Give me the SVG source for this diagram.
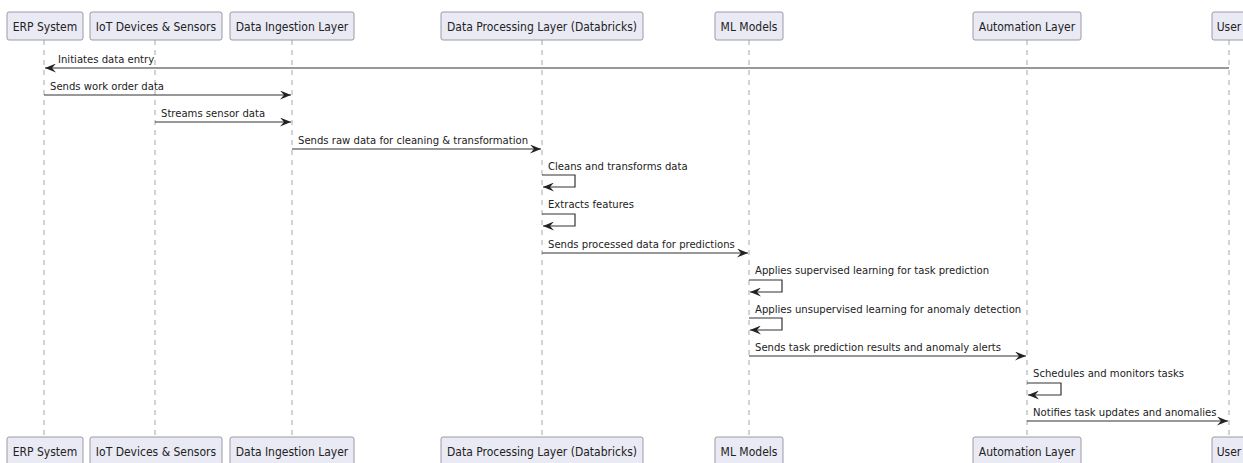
<svg xmlns="http://www.w3.org/2000/svg" width="1243" height="463" viewBox="0 0 1243 463">
<style>
  .box { fill: #EAEAF5; stroke: #9A9AA6; stroke-width: 1; }
  .btxt { font-family: "DejaVu Sans Condensed", "DejaVu Sans", sans-serif; font-stretch: condensed; font-size: 12px; fill: #222; text-anchor: middle; }
  .life { stroke: #A8A8A8; stroke-width: 1; stroke-dasharray: 5,5; fill: none; }
  .msg { stroke: #333; stroke-width: 1.2; fill: none; }
  .mtxt { font-family: "DejaVu Sans Condensed", "DejaVu Sans", sans-serif; font-stretch: condensed; font-size: 11.2px; fill: #222; }
</style>
<defs>
  <marker id="ah" viewBox="0 0 11 9" refX="11" refY="4.5" markerWidth="11" markerHeight="9" markerUnits="userSpaceOnUse" orient="auto">
    <path d="M0,0 L11,4.5 L0,9 L4,4.5 Z" fill="#222"/>
  </marker>
</defs>
<rect width="1243" height="463" fill="#FFFFFF"/>
<g id="lifelines">
  <line class="life" x1="44" y1="40" x2="44" y2="437"/>
  <line class="life" x1="155" y1="40" x2="155" y2="437"/>
  <line class="life" x1="292" y1="40" x2="292" y2="437"/>
  <line class="life" x1="542" y1="40" x2="542" y2="437"/>
  <line class="life" x1="749" y1="40" x2="749" y2="437"/>
  <line class="life" x1="1027" y1="40" x2="1027" y2="437"/>
  <line class="life" x1="1229" y1="40" x2="1229" y2="437"/>
</g>
<g id="erp">
  <rect class="box" x="7" y="12" width="76" height="28" rx="2"/>
  <text class="btxt" x="45" y="30.5">ERP System</text>
  <rect class="box" x="7" y="437" width="76" height="28" rx="2"/>
  <text class="btxt" x="45" y="455.5">ERP System</text>
</g>
<g id="iot">
  <rect class="box" x="90" y="12" width="132" height="28" rx="2"/>
  <text class="btxt" x="156" y="30.5">IoT Devices &amp; Sensors</text>
  <rect class="box" x="90" y="437" width="132" height="28" rx="2"/>
  <text class="btxt" x="156" y="455.5">IoT Devices &amp; Sensors</text>
</g>
<g id="ingestion">
  <rect class="box" x="230" y="12" width="124" height="28" rx="2"/>
  <text class="btxt" x="292" y="30.5">Data Ingestion Layer</text>
  <rect class="box" x="230" y="437" width="124" height="28" rx="2"/>
  <text class="btxt" x="292" y="455.5">Data Ingestion Layer</text>
</g>
<g id="processing">
  <rect class="box" x="441" y="12" width="202" height="28" rx="2"/>
  <text class="btxt" x="542" y="30.5">Data Processing Layer (Databricks)</text>
  <rect class="box" x="441" y="437" width="202" height="28" rx="2"/>
  <text class="btxt" x="542" y="455.5">Data Processing Layer (Databricks)</text>
</g>
<g id="ml">
  <rect class="box" x="715" y="12" width="68" height="28" rx="2"/>
  <text class="btxt" x="749" y="30.5">ML Models</text>
  <rect class="box" x="715" y="437" width="68" height="28" rx="2"/>
  <text class="btxt" x="749" y="455.5">ML Models</text>
</g>
<g id="automation">
  <rect class="box" x="973" y="12" width="108" height="28" rx="2"/>
  <text class="btxt" x="1027" y="30.5">Automation Layer</text>
  <rect class="box" x="973" y="437" width="108" height="28" rx="2"/>
  <text class="btxt" x="1027" y="455.5">Automation Layer</text>
</g>
<g id="user">
  <rect class="box" x="1212" y="12" width="36" height="28" rx="2"/>
  <text class="btxt" x="1229" y="30.5">User</text>
  <rect class="box" x="1212" y="437" width="36" height="28" rx="2"/>
  <text class="btxt" x="1229" y="455.5">User</text>
</g>
<g id="connectors">
  <line class="msg" x1="1229" y1="68" x2="45" y2="68" marker-end="url(#ah)" stroke="#555" stroke-width="1.5"/>
  <text class="mtxt" x="58" y="63">Initiates data entry</text>
  <line class="msg" x1="44" y1="95" x2="291" y2="95" marker-end="url(#ah)"/>
  <text class="mtxt" x="50" y="90">Sends work order data</text>
  <line class="msg" x1="155" y1="122" x2="291" y2="122" marker-end="url(#ah)"/>
  <text class="mtxt" x="161" y="117">Streams sensor data</text>
  <line class="msg" x1="292" y1="149" x2="541" y2="149" marker-end="url(#ah)"/>
  <text class="mtxt" x="298" y="144">Sends raw data for cleaning &amp; transformation</text>
  <polyline class="msg" points="542,175 575,175 575,187 543,187" marker-end="url(#ah)"/>
  <text class="mtxt" x="548" y="170">Cleans and transforms data</text>
  <polyline class="msg" points="542,214 575,214 575,226 543,226" marker-end="url(#ah)"/>
  <text class="mtxt" x="548" y="208">Extracts features</text>
  <line class="msg" x1="542" y1="253" x2="748" y2="253" marker-end="url(#ah)"/>
  <text class="mtxt" x="548" y="248">Sends processed data for predictions</text>
  <polyline class="msg" points="749,280 782,280 782,292 750,292" marker-end="url(#ah)"/>
  <text class="mtxt" x="755" y="274">Applies supervised learning for task prediction</text>
  <polyline class="msg" points="749,318 782,318 782,330 750,330" marker-end="url(#ah)"/>
  <text class="mtxt" x="755" y="313">Applies unsupervised learning for anomaly detection</text>
  <line class="msg" x1="749" y1="356" x2="1026" y2="356" marker-end="url(#ah)"/>
  <text class="mtxt" x="755" y="351">Sends task prediction results and anomaly alerts</text>
  <polyline class="msg" points="1027,383 1061,383 1061,395 1028,395" marker-end="url(#ah)"/>
  <text class="mtxt" x="1033" y="377">Schedules and monitors tasks</text>
  <line class="msg" x1="1027" y1="421" x2="1228" y2="421" marker-end="url(#ah)"/>
  <text class="mtxt" x="1033" y="416">Notifies task updates and anomalies</text>
</g>
</svg>
